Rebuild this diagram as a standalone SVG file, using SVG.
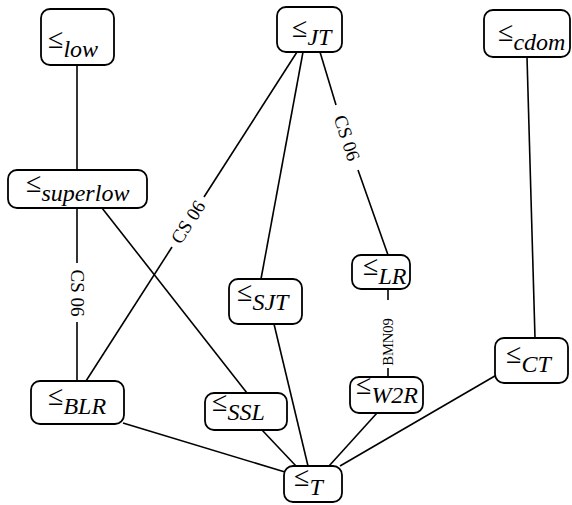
<svg xmlns="http://www.w3.org/2000/svg" width="572" height="505" viewBox="0 0 572 505">
<style>
.box{fill:#fff;stroke:#000;stroke-width:1.8}
.e{stroke:#000;stroke-width:1.6;fill:none}
.lab{font-family:"Liberation Serif",serif;font-size:28px;fill:#000}
.sub{font-style:italic;font-size:24px}
.el{font-family:"Liberation Serif",serif;font-size:19px;fill:#000;text-anchor:middle;dominant-baseline:central}
.el2{font-size:14.5px}
</style>
<rect width="572" height="505" fill="#fff"/>
<g id="edges">
<line class="e" x1="77" y1="65" x2="77" y2="170"/>
<line class="e" x1="77" y1="208" x2="77" y2="263"/>
<line class="e" x1="77" y1="322" x2="77" y2="381"/>
<text class="el" transform="translate(77,293) rotate(90)">CS 06</text>
<line class="e" x1="102" y1="208" x2="247" y2="393"/>
<line class="e" x1="297" y1="52" x2="204" y2="197"/>
<line class="e" x1="172" y1="247" x2="86" y2="381"/>
<text class="el" transform="translate(188,222) rotate(-57.3)">CS 06</text>
<line class="e" x1="303" y1="52" x2="261" y2="279"/>
<line class="e" x1="320" y1="52" x2="336" y2="105"/>
<line class="e" x1="358" y1="170" x2="388" y2="255"/>
<text class="el" transform="translate(347,138) rotate(71.5)">CS 06</text>
<line class="e" x1="388" y1="289" x2="388" y2="300"/>
<line class="e" x1="388" y1="368" x2="388" y2="377"/>
<text class="el el2" transform="translate(388,342) rotate(-90)">BMN09</text>
<line class="e" x1="527" y1="57" x2="535" y2="338"/>
<line class="e" x1="274" y1="324" x2="308" y2="466"/>
<line class="e" x1="262" y1="430" x2="296" y2="466"/>
<line class="e" x1="123" y1="423" x2="285" y2="472"/>
<line class="e" x1="377" y1="413" x2="329" y2="466"/>
<line class="e" x1="500" y1="373" x2="340" y2="466"/>
</g>
<g id="n-low"><rect class="box" x="41" y="9" width="73" height="56" rx="9"/><text class="lab" x="48" y="48">≤<tspan class="sub" dy="9">low</tspan></text></g>
<g id="n-JT"><rect class="box" x="277" y="7" width="65" height="45" rx="9"/><text class="lab" x="292" y="37">≤<tspan class="sub" dy="8">JT</tspan></text></g>
<g id="n-cdom"><rect class="box" x="484" y="10" width="86" height="47" rx="9"/><text class="lab" x="498" y="41">≤<tspan class="sub" dy="9">cdom</tspan></text></g>
<g id="n-superlow"><rect class="box" x="8" y="170" width="139" height="38" rx="9"/><text class="lab" x="26" y="192">≤<tspan class="sub" dy="9">superlow</tspan></text></g>
<g id="n-LR"><rect class="box" x="352" y="255" width="58" height="34" rx="9"/><text class="lab" x="363" y="275">≤<tspan class="sub" dy="9">LR</tspan></text></g>
<g id="n-SJT"><rect class="box" x="229" y="279" width="73" height="45" rx="9"/><text class="lab" x="237" y="301">≤<tspan class="sub" dy="9">SJT</tspan></text></g>
<g id="n-CT"><rect class="box" x="495" y="338" width="73" height="45" rx="9"/><text class="lab" x="506" y="363">≤<tspan class="sub" dy="9">CT</tspan></text></g>
<g id="n-BLR"><rect class="box" x="31" y="381" width="93" height="43" rx="9"/><text class="lab" x="48" y="405">≤<tspan class="sub" dy="9">BLR</tspan></text></g>
<g id="n-SSL"><rect class="box" x="205" y="393" width="82" height="37" rx="9"/><text class="lab" x="212" y="411">≤<tspan class="sub" dy="9">SSL</tspan></text></g>
<g id="n-W2R"><rect class="box" x="350" y="377" width="73" height="36" rx="9"/><text class="lab" x="356" y="394">≤<tspan class="sub" dy="9">W2R</tspan></text></g>
<g id="n-T"><rect class="box" x="284" y="466" width="58" height="36" rx="9"/><text class="lab" x="294" y="486">≤<tspan class="sub" dy="9">T</tspan></text></g>
</svg>
